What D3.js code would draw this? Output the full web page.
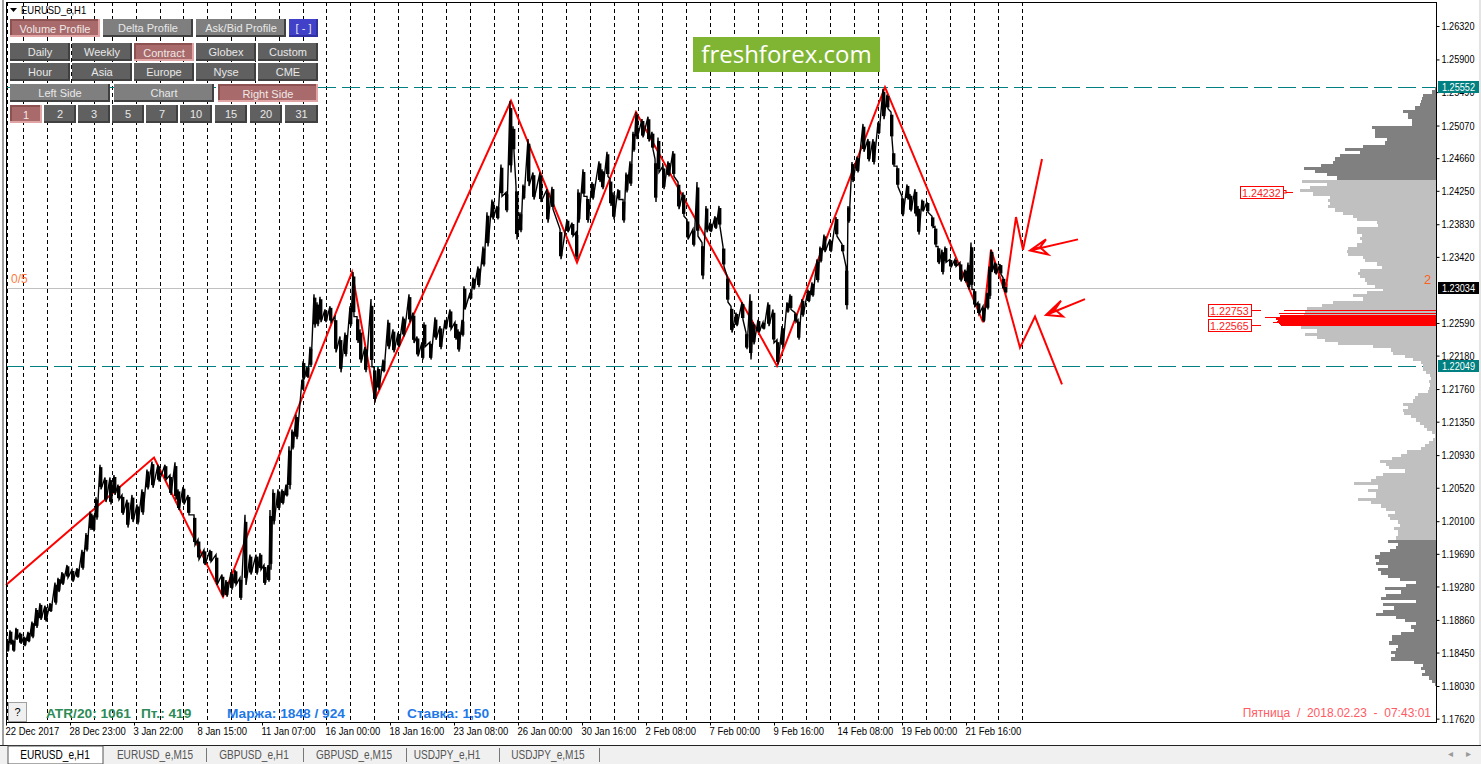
<!DOCTYPE html>
<html><head><meta charset="utf-8">
<script src="https://cdn.jsdelivr.net/npm/d3@7"></script>
<style>
html,body{margin:0;padding:0;background:#fff;overflow:hidden}
svg{display:block}
text{font-family:"Liberation Sans",Arial,sans-serif}
</style></head><body><svg id="c" width="1481" height="764"></svg>
<script>
// ---------- data ----------
const priceBars = [
1,4,7,10,14,18,22,26,30,34,
39,44,49,52,56,61,66,71,76,80,
84,87,90,94,99,104,108,112,116,121,
126,131,136,141,146,152,159,164,169,172,
177,182,188,192,198,204,210,216,220,225,
229,234,239,244,250,254,258,262,264,267,
272,276,280,283,286,290,296,297,301,304,
308,311,314,319,324,329,334,339,344,347,
351,354,359,365,368,372,377,382,387,392,
397,403,407,411,416,418,424,429,434,439,
444,449,452,456,458,464,467,472,477,481,
486,491,495,500,504,507,510,514,517,522,
527,534,541,546,554,561,566,570,572,577,
581,586,593,596,601,604,607,612,617,620,
624,627,630,636,642,646,649,652,657,662,
667,672,677,681,687,691,696,700,704,709,
713,717,721,725,730,736,740,744,747,752,
757,762,767,771,776,781,784,789,792,796,
802,806,811,814,818,824,830,836,840,842,
846,851,857,862,867,872,877,881,885,887,
891,896,901,904,909,912,916,921,926,929,
932,936,939,944,949,954,959,962,965,968,
972,977,981,983,985,989,994,997,999];
const priceHigh = [
1.1861,1.1873,1.1861,1.1876,1.1870,1.1865,1.1871,1.1884,1.1901,1.1907,
1.1904,1.1907,1.1933,1.1939,1.1946,1.1955,1.1949,1.1951,1.1974,1.1995,
1.2022,1.2018,1.2040,1.2081,1.2065,1.2065,1.2068,1.2056,1.2043,1.2037,
1.2043,1.2031,1.2050,1.2075,1.2085,1.2081,1.2081,1.2068,1.2084,1.2050,
1.2053,1.2043,1.2018,1.1987,1.1974,1.1974,1.1968,1.1943,1.1936,1.1946,
1.1949,1.1939,1.2018,1.1968,1.1968,1.1970,1.1955,1.1955,1.2024,1.2050,
1.2050,1.2050,1.2056,1.2104,1.2125,1.2144,1.2188,1.2211,1.2204,1.2229,
1.2295,1.2285,1.2292,1.2276,1.2280,1.2267,1.2242,1.2247,1.2280,1.2323,
1.2267,1.2251,1.2229,1.2289,1.2204,1.2204,1.2213,1.2263,1.2251,1.2247,
1.2267,1.2295,1.2272,1.2242,1.2235,1.2260,1.2235,1.2266,1.2255,1.2263,
1.2276,1.2260,1.2251,1.2263,1.2305,1.2297,1.2316,1.2330,1.2355,1.2398,
1.2414,1.2406,1.2458,1.2423,1.2538,1.2506,1.2431,1.2398,1.2433,1.2490,
1.2448,1.2448,1.2427,1.2430,1.2377,1.2389,1.2385,1.2373,1.2427,1.2452,
1.2418,1.2436,1.2462,1.2452,1.2474,1.2440,1.2423,1.2427,1.2414,1.2448,
1.2462,1.2499,1.2524,1.2515,1.2518,1.2499,1.2465,1.2492,1.2456,1.2462,
1.2475,1.2436,1.2423,1.2389,1.2377,1.2436,1.2360,1.2406,1.2385,1.2393,
1.2406,1.2355,1.2318,1.2280,1.2272,1.2285,1.2247,1.2295,1.2260,1.2263,
1.2260,1.2285,1.2276,1.2238,1.2255,1.2285,1.2295,1.2272,1.2263,1.2289,
1.2301,1.2310,1.2339,1.2355,1.2370,1.2364,1.2392,1.2358,1.2330,1.2406,
1.2461,1.2468,1.2509,1.2490,1.2490,1.2511,1.2553,1.2546,1.2524,1.2474,
1.2456,1.2418,1.2433,1.2421,1.2427,1.2406,1.2414,1.2411,1.2393,1.2380,
1.2355,1.2351,1.2355,1.2339,1.2339,1.2335,1.2326,1.2335,1.2360,1.2301,
1.2285,1.2280,1.2297,1.2330,1.2351,1.2335,1.2333,1.2316,1.2310];
const priceLow = [
1.1846,1.1855,1.1846,1.1861,1.1856,1.1853,1.1858,1.1863,1.1876,1.1886,
1.1884,1.1896,1.1905,1.1921,1.1930,1.1939,1.1934,1.1939,1.1949,1.1972,
1.1999,1.1997,1.2012,1.2050,1.2034,1.2031,1.2043,1.2037,1.2018,1.2002,
1.2009,1.2006,1.2018,1.2050,1.2052,1.2060,1.2062,1.2043,1.2037,1.2024,
1.2031,1.2018,1.1980,1.1962,1.1955,1.1959,1.1930,1.1915,1.1915,1.1924,
1.1930,1.1911,1.1930,1.1943,1.1943,1.1949,1.1930,1.1934,1.1949,1.2006,
1.2024,1.2031,1.2041,1.2050,1.2100,1.2113,1.2175,1.2188,1.2190,1.2204,
1.2253,1.2255,1.2260,1.2260,1.2260,1.2222,1.2197,1.2217,1.2255,1.2267,
1.2234,1.2209,1.2197,1.2204,1.2159,1.2175,1.2197,1.2226,1.2222,1.2229,
1.2242,1.2260,1.2234,1.2217,1.2213,1.2229,1.2213,1.2238,1.2226,1.2251,
1.2251,1.2238,1.2223,1.2242,1.2276,1.2289,1.2301,1.2304,1.2330,1.2355,
1.2389,1.2389,1.2418,1.2398,1.2448,1.2474,1.2364,1.2373,1.2414,1.2431,
1.2414,1.2411,1.2385,1.2402,1.2339,1.2373,1.2368,1.2339,1.2385,1.2418,
1.2385,1.2414,1.2436,1.2427,1.2443,1.2406,1.2389,1.2414,1.2385,1.2423,
1.2431,1.2474,1.2490,1.2492,1.2487,1.2477,1.2411,1.2448,1.2427,1.2443,
1.2443,1.2402,1.2393,1.2364,1.2355,1.2368,1.2314,1.2373,1.2373,1.2377,
1.2380,1.2330,1.2285,1.2247,1.2255,1.2263,1.2226,1.2213,1.2232,1.2247,
1.2251,1.2255,1.2234,1.2207,1.2229,1.2272,1.2276,1.2260,1.2238,1.2267,
1.2285,1.2292,1.2310,1.2335,1.2348,1.2348,1.2368,1.2348,1.2276,1.2385,
1.2436,1.2448,1.2474,1.2462,1.2458,1.2496,1.2515,1.2528,1.2490,1.2456,
1.2430,1.2393,1.2414,1.2399,1.2393,1.2370,1.2399,1.2398,1.2379,1.2355,
1.2333,1.2320,1.2335,1.2329,1.2330,1.2311,1.2310,1.2301,1.2301,1.2280,
1.2270,1.2260,1.2276,1.2289,1.2323,1.2320,1.2320,1.2301,1.2296];

const zigBars   = [0,148,217,346,369,505,571,630,771,879,977,985,999];
const zigPrices = [1.1930,1.2090,1.1915,1.2323,1.2163,1.2538,1.2335,1.2524,1.2205,1.25552,1.2260,1.2351,1.2297];
const upBars    = [1000,1010,1017,1036];
const upPrices  = [1.2304,1.2392,1.2351,1.2465];
const downBars  = [999,1014,1029,1056];
const downPrices= [1.2297,1.2228,1.2267,1.2182];
const arrow1Bars  = [1072,1024,1034,1040,1024,1042,1034];
const arrow1Prices= [1.2364,1.2350,1.2354,1.2364,1.2350,1.2345,1.2354];
const arrow2Bars  = [1079,1040,1049,1055,1040,1057,1049];
const arrow2Prices= [1.2289,1.2269,1.2276,1.2287,1.2269,1.2267,1.2276];

const separatorBars = [1,17,41,65,88,106,130,154,177,201,225,249,273,297,320,344,368,392,416,440,464,488,512,536,560,584,608,632,656,680,704,728,752,776,800,824,848,872,896,920,944,968,992,1016];
const dateBars   = [0,64,128,192,256,320,384,448,512,576,640,704,768,832,896,960];
const dateLabels = ["22 Dec 2017","28 Dec 23:00","3 Jan 22:00","8 Jan 15:00","11 Jan 07:00","16 Jan 00:00","18 Jan 16:00","23 Jan 08:00","26 Jan 00:00","30 Jan 16:00","2 Feb 08:00","7 Feb 00:00","9 Feb 16:00","14 Feb 08:00","19 Feb 00:00","21 Feb 16:00"];
const priceTicks = [1.2632,1.2590,1.2549,1.2507,1.2466,1.2425,1.2383,1.2342,1.2259,1.2218,1.2176,1.2135,1.2093,1.2052,1.2010,1.1969,1.1928,1.1886,1.1845,1.1803,1.1762];

const profileTop = 1.2555, profileBin = 0.0004;
const profileVolumes = [
1,4,13,14,15,16,21,33,28,28,24,24,64,61,61,61,49,51,73,91,76,96,101,103,115,132,121,109,99,
134,109,126,136,123,106,108,106,108,101,93,83,79,59,58,79,79,74,76,74,79,88,89,88,73,71,59,54,76,78,76,71,69,61,53,69,83,73,103,114,129,
131,132,135,135,135,135,119,131,119,111,98,63,45,43,31,23,15,13,13,10,6,5,7,6,7,8,18,21,23,33,28,33,32,25,20,16,12,9,4,1,3,7,11,15,29,35,44,56,50,47,31,53,60,65,82,58,68,60,60,78,65,55,50,41,48,46,38,36,42,38,38,40,
48,38,40,46,56,61,57,60,48,58,55,48,36,20,30,51,35,50,55,20,53,42,53,60,40,31,20,25,22,35,44,44,47,38,40,45,41,45,22,13,15,11,14,7,4,1,0];
const valueAreaHigh = 1.2441, valueAreaLow = 1.1989;
const pocPrices  = [1.22753,1.2271,1.22685,1.22672,1.2266,1.22647,1.22634,1.22622,1.22609,1.22597,1.22584,1.22571,1.22559];
const pocVolumes = [152,157,156,156,171,160,160,158,159,163,157,156,155];

const levelLabels = [{p:1.24232,t:"1.24232",box:1},{p:1.22753,t:"1.22753",box:2},{p:1.22565,t:"1.22565",box:2}];
const buttonRows = [
 {y:19,h:18,c:"#7f7f7f",items:[["Volume Profile",10,90,1],["Delta Profile",103,90,0],["Ask/Bid Profile",196,90,0],["[ - ]",289,29,2]]},
 {y:43,h:18,c:"#606060",items:[["Daily",10,60,0],["Weekly",72,60,0],["Contract",134,60,1],["Globex",196,60,0],["Custom",258,60,0]]},
 {y:63,h:18,c:"#606060",items:[["Hour",10,60,0],["Asia",72,60,0],["Europe",134,60,0],["Nyse",196,60,0],["CME",258,60,0]]},
 {y:84,h:18,c:"#7f7f7f",items:[["Left Side",10,100,0],["Chart",114,100,0],["Right Side",218,100,1]]},
 {y:105,h:18,c:"#606060",items:[["1",10,32,1],["2",44,32,0],["3",78,32,0],["5",112,32,0],["7",146,32,0],["10",180,32,0],["15",215,32,0],["20",250,32,0],["31",285,33,0]]}
];
const tabs = [["EURUSD_e,H1",55],["EURUSD_e,M15",155],["GBPUSD_e,H1",254],["GBPUSD_e,M15",354],["USDJPY_e,H1",447],["USDJPY_e,M15",548]];
const tabSeparators = [206,303,406,499,599];

// ---------- scales ----------
const L=6,R=1436,T=2,B=722;
const x = d3.scaleLinear().domain([0,1430]).range([L,R]);
const y = d3.scaleLinear().domain([1.2632,1.1803]).range([26,686]);
const v = d3.scaleLinear().domain([0,200]).range([R,R-200]);
const svg = d3.select("#c");
const line = d3.line().x(d=>x(d[0])).y(d=>y(d[1]));
// the terminal's font is narrower than any installed face: squeeze the real text
function squeeze(sel,k){sel.each(function(){const w=this.getComputedTextLength();d3.select(this).attr("textLength",(w*k).toFixed(1)).attr("lengthAdjust","spacingAndGlyphs");});}

// chrome
svg.append("rect").attr("x",2).attr("y",0).attr("width",2).attr("height",746).attr("fill","#a0a0a0");
svg.append("rect").attr("x",1479).attr("y",0).attr("width",2).attr("height",746).attr("fill","#e4e4e4");
svg.append("rect").attr("x",0).attr("y",746).attr("width",1481).attr("height",18).attr("fill","#f0f0f0");
svg.append("line").attr("x1",0).attr("x2",1481).attr("y1",745.5).attr("y2",745.5).attr("stroke","#222");

// separators
svg.append("g").selectAll("line").data(separatorBars).join("line")
  .attr("x1",d=>Math.round(x(d))+.5).attr("x2",d=>Math.round(x(d))+.5).attr("y1",T).attr("y2",B)
  .attr("stroke","#000").attr("stroke-dasharray","4,3");

// horizontals
function hline(p,c,dash){svg.append("line").attr("x1",L).attr("x2",R).attr("y1",Math.round(y(p))+.5).attr("y2",Math.round(y(p))+.5).attr("stroke",c).attr("stroke-dasharray",dash);}
hline(1.23034,"#c0c0c0",null);
hline(1.25552,"#008080","18,6");
hline(1.22049,"#008080","18,6");

// profile
const profile = profileVolumes.map((d,i)=>({p:profileTop-i*profileBin,v:d}));
svg.append("g").attr("shape-rendering","crispEdges").selectAll("rect").data(profile).join("rect")
  .attr("x",d=>v(d.v)).attr("width",d=>R-v(d.v))
  .attr("y",d=>Math.round(y(d.p))).attr("height",d=>Math.round(y(d.p-profileBin))-Math.round(y(d.p)))
  .attr("fill",d=>(d.p>valueAreaHigh||d.p<valueAreaLow)?"#808080":"#c0c0c0");
svg.append("g").attr("shape-rendering","crispEdges").selectAll("rect").data(pocPrices.map((p,i)=>({p,v:pocVolumes[i]}))).join("rect")
  .attr("x",d=>v(d.v)).attr("width",d=>R-v(d.v))
  .attr("y",d=>Math.round(y(d.p))).attr("height",1).attr("fill","#ff0000");

// zigzag under price
function red(bars,prices,w){svg.append("path").attr("d",line(bars.map((b,i)=>[b,prices[i]]))).attr("fill","none").attr("stroke","#ff0000").attr("stroke-width",w).attr("stroke-linejoin","miter");}
red(zigBars,zigPrices,2);

// price
const pts=[];priceBars.forEach((b,i)=>{pts.push([b,priceHigh[i]]);pts.push([b+1,priceLow[i]]);});
svg.append("path").attr("d",line(pts)).attr("fill","none").attr("stroke","#000").attr("stroke-width",1.4);
svg.append("g").selectAll("rect").data(priceBars).join("rect")
  .attr("x",d=>x(d)-1).attr("width",3.4)
  .attr("y",(d,i)=>y(priceHigh[i]+(priceLow[i]-priceHigh[i])*.1)).attr("height",(d,i)=>(y(priceLow[i])-y(priceHigh[i]))*.8).attr("fill","#000");

red(upBars,upPrices,2);red(downBars,downPrices,2);red(arrow1Bars,arrow1Prices,2);red(arrow2Bars,arrow2Prices,2);

// frame
svg.append("rect").attr("x",L+.5).attr("y",T+.5).attr("width",R-L).attr("height",B-T).attr("fill","none").attr("stroke","#000");

// axes
const ay=svg.append("g").attr("transform",`translate(${R+.5},0)`).call(d3.axisRight(y).tickValues(priceTicks).tickFormat(d3.format(".5f")).tickSize(3).tickPadding(2));
ay.select(".domain").remove();
ay.selectAll("text").attr("font-size",11).attr("fill","#000").attr("font-family",null).call(squeeze,.83);
ay.selectAll("line").attr("stroke","#000");
const ax=svg.append("g").attr("transform",`translate(0,${B+.5})`).call(d3.axisBottom(x).tickValues(dateBars).tickFormat((d,i)=>dateLabels[i]).tickSize(3).tickPadding(2));
ax.select(".domain").remove();
ax.selectAll("text").attr("font-size",11).attr("fill","#000").attr("text-anchor","start").attr("dx",-1).attr("font-family",null).call(squeeze,.86);
ax.selectAll("line").attr("stroke","#000");

// price boxes
[[1.25552,"#008080"],[1.23034,"#000"],[1.22049,"#008080"]].forEach(([p,c])=>{
  const yy=Math.round(y(p));
  svg.append("rect").attr("x",1438).attr("y",yy-6).attr("width",41).attr("height",12).attr("fill",c);
  svg.append("text").attr("x",1442).attr("y",yy+4).attr("font-size",11).attr("fill","#fff").text(d3.format(".5f")(p)).call(squeeze,.83);
});

// level labels
levelLabels.forEach(d=>{
  const yy=Math.round(y(d.p));
  const x0=d.box==1?1240:1208;
  svg.append("rect").attr("x",x0+.5).attr("y",yy-5.5).attr("width",43).attr("height",12).attr("fill","#fff").attr("stroke","#ff0000");
  svg.append("text").attr("x",x0+2).attr("y",yy+5).attr("font-size",11.5).attr("fill","#ff2020").text(d.t).call(squeeze,.93);
  svg.append("line").attr("x1",x0+43).attr("x2",x0+53).attr("y1",yy+.5).attr("y2",yy+.5).attr("stroke","#ff0000");
});
svg.append("rect").attr("x",1283.5).attr("y",190.5).attr("width",2.5).attr("height",2.5).attr("fill","#fff").attr("stroke","#f00");

// title
svg.append("path").attr("d",d3.line()([[10,8],[17,8],[13.5,12]])+"Z").attr("fill","#000");
svg.append("text").attr("x",21).attr("y",14).attr("font-size",11).attr("fill","#000").text("EURUSD_e,H1").call(squeeze,.86);

// buttons
buttonRows.forEach(r=>r.items.forEach(([t,xx,w,state])=>{
  const g=svg.append("g");
  const fill=state==1?"#a86a6a":state==2?"#4040c8":r.c;
  const hi=state==1?"#e0a4a4":state==2?"#3030a0":"#404040";
  g.append("rect").attr("x",xx).attr("y",r.y).attr("width",w).attr("height",r.h).attr("fill",hi);
  g.append("rect").attr("x",xx).attr("y",r.y).attr("width",w-2).attr("height",r.h-2).attr("fill",state==1?"#8c5252":fill);
  g.append("rect").attr("x",xx+2).attr("y",r.y+2).attr("width",w-4).attr("height",r.h-4).attr("fill",fill);
  g.append("text").attr("x",xx+w/2).attr("y",r.y+13+(state==1?1:0)).attr("text-anchor","middle").attr("font-size",11).attr("fill",state==1?"#f0e8e8":"#e8e8e8").text(t);
}));

// logo
svg.append("rect").attr("x",693).attr("y",37).attr("width",187).attr("height",35).attr("fill","#80b533");
svg.append("text").attr("x",786.5).attr("y",63).attr("text-anchor","middle").attr("font-size",24).attr("fill","#fff").style("font-family","'Open Sans'").text("freshforex.com");

// misc text
svg.append("text").attr("x",11).attr("y",283).attr("font-size",12).attr("fill","#ff7a40").text("0/5");
svg.append("text").attr("x",1424).attr("y",284).attr("font-size",13).attr("fill","#ff6020").text("2");
svg.append("rect").attr("x",8.5).attr("y",702.5).attr("width",18).attr("height",19).attr("fill","#f0f0f0").attr("stroke","#a0a0a0");
svg.append("text").attr("x",17.5).attr("y",716).attr("text-anchor","middle").attr("font-size",11).attr("fill","#000").text("?");
const atr=[["ATR/20: 1061",46,"#2e8b57"],["Пт.: 419",141,"#2e8b57"],["Маржа: 1848 / 924",227,"#1e78e6"],["Ставка: 1,50",407,"#1e78e6"]];
svg.append("g").selectAll("text").data(atr).join("text").attr("x",d=>d[1]).attr("y",718).attr("font-size",13.7).attr("font-weight","bold").attr("fill",d=>d[2]).text(d=>d[0]);
svg.append("text").attr("x",1431).attr("y",717).attr("text-anchor","end").attr("font-size",12).attr("fill","#ff5a64").attr("xml:space","preserve").text("Пятница  /  2018.02.23  -  07:43:01");

// tabs
svg.append("rect").attr("x",8).attr("y",746).attr("width",95).attr("height",18).attr("fill","#fff").attr("stroke","#555");
svg.append("g").selectAll("text").data(tabs).join("text").attr("x",d=>d[1]).attr("y",759).attr("text-anchor","middle").attr("font-size",12).attr("fill",(d,i)=>i==0?"#000":"#555").text(d=>d[0]).call(squeeze,.84);
svg.append("g").selectAll("line").data(tabSeparators).join("line").attr("x1",d=>d+.5).attr("x2",d=>d+.5).attr("y1",748).attr("y2",762).attr("stroke","#777");
svg.append("text").attr("x",1450).attr("y",757).attr("font-size",10).attr("fill","#999").attr("text-anchor","middle").text("◂");
svg.append("text").attr("x",1468).attr("y",757).attr("font-size",10).attr("fill","#999").attr("text-anchor","middle").text("▸");
</script></body></html>
